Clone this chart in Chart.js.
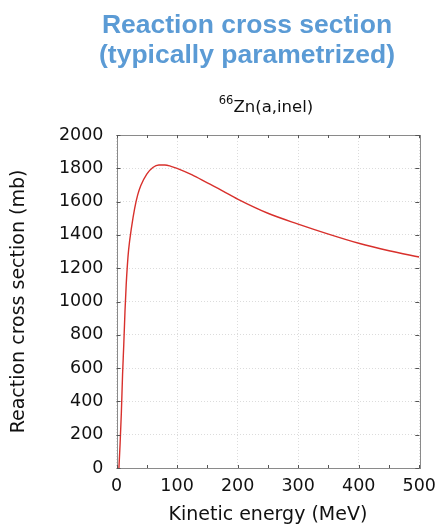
<!DOCTYPE html>
<html>
<head>
<meta charset="utf-8">
<script src="https://cdn.jsdelivr.net/npm/chart.js@4.4.1/dist/chart.umd.min.js"></script>
<style>
  html, body { margin: 0; padding: 0; background: #ffffff; }
  #wrap { position: relative; width: 444px; height: 527px; }
</style>
</head>
<body>
<div id="wrap"><canvas id="c" width="444" height="527"></canvas></div>
<script>
// Parametrized reaction cross section for alpha + 66Zn
const energyMeV = [4, 6, 8, 10, 12, 14, 16, 18, 20, 25, 30, 35, 40, 50, 60, 70, 80, 90, 100,
                   125, 150, 175, 200, 250, 300, 350, 400, 450, 500];
const sigmaMb   = [0, 150, 330, 560, 740, 940, 1100, 1220, 1310, 1450, 1560, 1640, 1695, 1765, 1805, 1820, 1820, 1812, 1800,
                   1760, 1712, 1665, 1615, 1530, 1465, 1405, 1350, 1305, 1267];

const titleLines = ['Reaction cross section', '(typically parametrized)'];
const subtitleMass = '66';
const subtitleText = 'Zn(a,inel)';
const xAxisTitle = 'Kinetic energy (MeV)';
const yAxisTitle = 'Reaction cross section (mb)';
const xTicks = [0, 100, 200, 300, 400, 500];
const yTicks = [0, 200, 400, 600, 800, 1000, 1200, 1400, 1600, 1800, 2000];

const points = energyMeV.map((e, i) => ({ x: e, y: sigmaMb[i] }));

// Heading, reaction label, frame box and inward tick marks
const decorations = {
  id: 'decorations',
  afterDraw(chart) {
    const ctx = chart.ctx;
    const a = chart.chartArea;
    const xs = chart.scales.x, ys = chart.scales.y;
    ctx.save();

    // heading
    ctx.fillStyle = '#5b9bd5';
    ctx.font = 'bold 26.5px "Liberation Sans", Arial, sans-serif';
    ctx.textAlign = 'center';
    ctx.textBaseline = 'alphabetic';
    ctx.fillText(titleLines[0], 247, 32.5);
    ctx.fillText(titleLines[1], 247, 63);

    // reaction label with superscript mass number
    ctx.fillStyle = '#111111';
    ctx.textAlign = 'left';
    const supFont = '11.5px "DejaVu Sans", sans-serif';
    const mainFont = '16.5px "DejaVu Sans", sans-serif';
    ctx.font = supFont;
    const w1 = ctx.measureText(subtitleMass).width;
    ctx.font = mainFont;
    const w2 = ctx.measureText(subtitleText).width;
    const x0 = 266 - (w1 + w2) / 2;
    ctx.font = supFont;
    ctx.fillText(subtitleMass, x0, 103.5);
    ctx.font = mainFont;
    ctx.fillText(subtitleText, x0 + w1, 111.5);

    // frame
    ctx.strokeStyle = '#8a8a8a';
    ctx.lineWidth = 1;
    ctx.strokeRect(Math.round(a.left) + 0.5, Math.round(a.top) + 0.5,
                   Math.round(a.right - a.left), Math.round(a.bottom - a.top));

    // inward ticks
    ctx.strokeStyle = '#555555';
    ctx.beginPath();
    for (let v = 0; v <= 2000; v += 200) {
      const y = Math.round(ys.getPixelForValue(v)) + 0.5;
      ctx.moveTo(a.left, y); ctx.lineTo(a.left + 4, y);
      ctx.moveTo(a.right, y); ctx.lineTo(a.right - 4, y);
    }
    for (let v = 0; v <= 500; v += 50) {
      const x = Math.round(xs.getPixelForValue(v)) + 0.5;
      ctx.moveTo(x, a.bottom); ctx.lineTo(x, a.bottom - 3);
      ctx.moveTo(x, a.top); ctx.lineTo(x, a.top + 3);
    }
    ctx.stroke();
    ctx.restore();
  }
};

new Chart(document.getElementById('c'), {
  type: 'line',
  data: {
    datasets: [{
      data: points,
      borderColor: '#d8302c',
      borderWidth: 1.4,
      pointRadius: 0,
      fill: false,
      cubicInterpolationMode: 'monotone'
    }]
  },
  options: {
    responsive: false,
    animation: false,
    devicePixelRatio: 1,
    layout: { padding: { top: 135, right: 24, left: 0, bottom: 0 } },
    plugins: { legend: { display: false }, tooltip: { enabled: false }, title: { display: false } },
    scales: {
      x: {
        type: 'linear',
        min: 0, max: 500,
        afterFit(s) { s.height = 59; },
        afterBuildTicks(s) { s.ticks = xTicks.map(v => ({ value: v })); },
        grid: { color: '#dcdcdc', drawTicks: false, lineWidth: 1 },
        border: { display: false, dash: [1, 2] },
        ticks: { color: '#111111', font: { family: 'DejaVu Sans', size: 17.5 }, padding: 8, maxRotation: 0,
                 callback: v => String(v) },
        title: { display: true, text: xAxisTitle, color: '#111111',
                 font: { family: 'DejaVu Sans', size: 19, lineHeight: 1 }, padding: { top: 0, bottom: 2 } }
      },
      y: {
        type: 'linear',
        min: 0, max: 2000,
        afterFit(s) { s.width = 116.5; },
        afterBuildTicks(s) { s.ticks = yTicks.map(v => ({ value: v })); },
        grid: { color: '#dcdcdc', drawTicks: false, lineWidth: 1 },
        border: { display: false, dash: [1, 2] },
        ticks: { color: '#111111', font: { family: 'DejaVu Sans', size: 17.5 }, padding: 13,
                 callback: v => String(v) },
        title: { display: true, text: yAxisTitle, color: '#111111',
                 font: { family: 'DejaVu Sans', size: 19, lineHeight: 1 }, padding: { top: 10, bottom: 0 } }
      }
    }
  },
  plugins: [decorations]
});
</script>
</body>
</html>
